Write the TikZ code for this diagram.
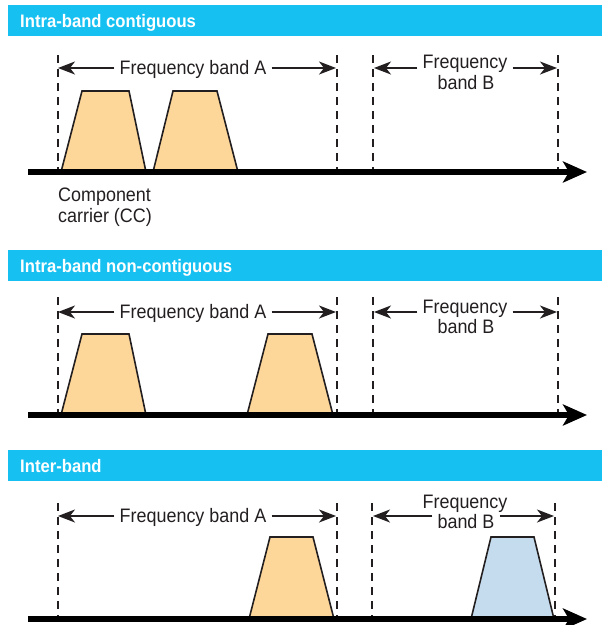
\documentclass[tikz,border=0pt]{standalone}
\usepackage{fontspec}
\newfontfamily\figfont[FakeStretch=0.92]{Liberation Sans}
\usetikzlibrary{arrows.meta}
\definecolor{hdr}{RGB}{22,193,242}
\definecolor{fillA}{RGB}{253,214,153}
\definecolor{fillB}{RGB}{197,220,239}
\definecolor{ink}{RGB}{35,31,32}
\begin{document}
\begin{tikzpicture}[x=1pt,y=-1pt,
  hdrbar/.style={fill=hdr, draw=none, anchor=north west, inner sep=0pt,
    minimum width=594pt, minimum height=31pt},
  hdrtext/.style={anchor=base west, inner sep=0pt, text=white,
    font=\figfont\bfseries\fontsize{18.1}{21}\selectfont},
  lbl/.style={text=ink, font=\figfont\fontsize{19.5}{21}\selectfont,
    inner xsep=5pt, inner ysep=0pt, text height=14pt, text depth=2pt},
  lblb/.style={text=ink, font=\figfont\fontsize{19.5}{21}\selectfont,
    inner xsep=5pt, inner ysep=0pt, anchor=base},
  cclbl/.style={text=ink, font=\figfont\fontsize{19.5}{20.5}\selectfont,
    inner sep=0pt, align=left, anchor=north west},
  bandarrow/.style={draw=ink, line width=1.7pt,
    -{Stealth[length=17pt,width=13pt,inset=5pt]}},
  bandline/.style={draw=ink, line width=1.2pt, dash pattern=on 8pt off 6pt},
  axisline/.style={draw=black, line width=5.5pt,
    -{Stealth[length=24pt,width=21pt,inset=6pt]}},
  trapA/.style={fill=fillA, draw=ink, line width=1.6pt, line join=miter},
  trapB/.style={fill=fillB, draw=ink, line width=1.6pt, line join=miter},
]
\useasboundingbox (0,0) rectangle (607,625);
\clip (0,0) rectangle (607,625);

% ---------------- Panel 1 ----------------
\node[hdrbar] (bar1) at (8,5) {};
\node[hdrtext] (h1) at (20,27) {Intra-band contiguous};
\coordinate (ax1s) at (28,172);
\coordinate (ax1e) at (587,172);
\filldraw[trapA] (61,172) -- (82,91) -- (129,91) -- (146,172) -- cycle;
\filldraw[trapA] (153,172) -- (173,91) -- (217,91) -- (238,172) -- cycle;
\coordinate (d11) at (58,55);
\coordinate (d12) at (337,55);
\coordinate (d13) at (373,55);
\coordinate (d14) at (558,55);
\foreach \d in {d11,d12,d13,d14} \draw[bandline] (\d) -- (\d |- ax1s);
\node[lbl] (fa1) at (193,68) {Frequency band A};
\node[lblb] (fb1) at (465,68) {Frequency};
\node[lblb] (fbb1) at (466,89) {band B};
\draw[bandarrow] (fa1.west) -- (d11 |- fa1.west);
\draw[bandarrow] (fa1.east) -- ([xshift=-1pt]d12 |- fa1.east);
\draw[bandarrow] (fb1.west |- fa1.center) -- ([xshift=1pt]d13 |- fa1.center);
\draw[bandarrow] (fb1.east |- fa1.center) -- ([xshift=-1pt]d14 |- fa1.center);
\node[cclbl] (cc) at (58,188) {Component\\carrier (CC)};
\draw[axisline] (ax1s) -- (ax1e);

% ---------------- Panel 2 ----------------
\node[hdrbar] (bar2) at (8,250) {};
\node[hdrtext] (h2) at (20,272) {Intra-band non-contiguous};
\coordinate (ax2s) at (28,415);
\coordinate (ax2e) at (587,415);
\filldraw[trapA] (61,415) -- (82,334) -- (129,334) -- (146,415) -- cycle;
\filldraw[trapA] (247,415) -- (268,334) -- (312,334) -- (333,415) -- cycle;
\coordinate (d21) at (58,297);
\coordinate (d22) at (337,297);
\coordinate (d23) at (373,297);
\coordinate (d24) at (558,297);
\foreach \d in {d21,d22,d23,d24} \draw[bandline] (\d) -- (\d |- ax2s);
\node[lbl] (fa2) at (193,312) {Frequency band A};
\node[lblb] (fb2) at (465,313) {Frequency};
\node[lblb] (fbb2) at (466,333) {band B};
\draw[bandarrow] (fa2.west) -- (d21 |- fa2.west);
\draw[bandarrow] (fa2.east) -- ([xshift=-1pt]d22 |- fa2.east);
\draw[bandarrow] (fb2.west |- fa2.center) -- ([xshift=1pt]d23 |- fa2.center);
\draw[bandarrow] (fb2.east |- fa2.center) -- ([xshift=-1pt]d24 |- fa2.center);
\draw[axisline] (ax2s) -- (ax2e);

% ---------------- Panel 3 ----------------
\node[hdrbar] (bar3) at (8,450) {};
\node[hdrtext] (h3) at (20,472) {Inter-band};
\coordinate (ax3s) at (28,619);
\coordinate (ax3e) at (587,619);
\filldraw[trapA] (249,619) -- (270,537) -- (313,537) -- (334,619) -- cycle;
\filldraw[trapB] (471,619) -- (491,537) -- (534,537) -- (554,619) -- cycle;
\coordinate (d31) at (58,503);
\coordinate (d32) at (337,503);
\coordinate (d33) at (372,503);
\coordinate (d34) at (555,503);
\foreach \d in {d31,d32,d33,d34} \draw[bandline] (\d) -- (\d |- ax3s);
\node[lbl] (fa3) at (193,516) {Frequency band A};
\node[lblb] (fb3) at (465,508) {Frequency};
\node[lblb] (fbb3) at (466,528) {band B};
\draw[bandarrow] (fa3.west) -- (d31 |- fa3.west);
\draw[bandarrow] (fa3.east) -- ([xshift=-1pt]d32 |- fa3.east);
\draw[bandarrow] (fbb3.west |- fa3.center) -- ([xshift=1pt]d33 |- fa3.center);
\draw[bandarrow] (fbb3.east |- fa3.center) -- ([xshift=-1pt]d34 |- fa3.center);
\draw[axisline] (ax3s) -- (ax3e);
\end{tikzpicture}
\end{document}
